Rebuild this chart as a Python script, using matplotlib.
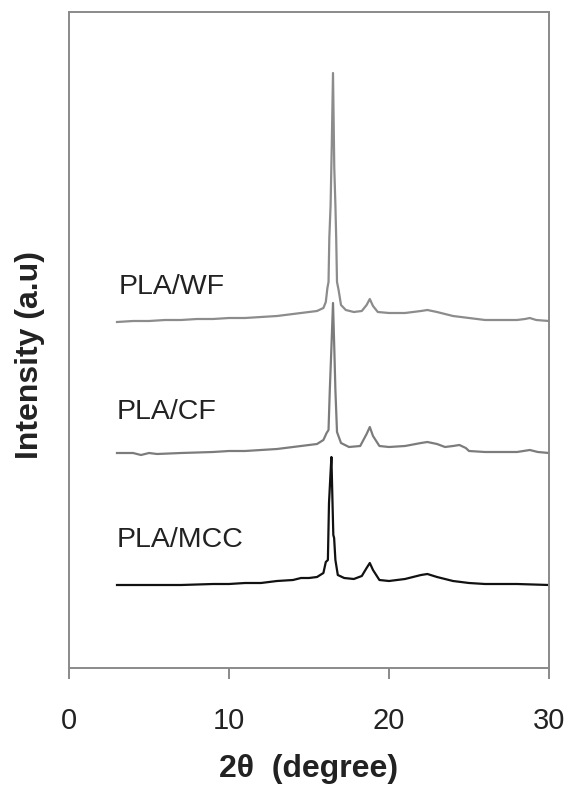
import matplotlib
matplotlib.use("Agg")
import matplotlib.pyplot as plt

plt.rcParams['font.family'] = ['Liberation Sans', 'DejaVu Sans']

# 2-theta (degree) and intensity (a.u., stacked)
wf_2theta = [3.0, 4.0, 5.0, 6.0, 7.0, 8.0, 9.0, 10.0, 11.0, 12.0, 13.0, 14.0, 14.5, 15.0,
             15.5, 15.9, 16.05, 16.15, 16.22, 16.27, 16.35, 16.42, 16.5, 16.58, 16.65,
             16.7, 16.75, 16.85, 17.0, 17.3, 17.8, 18.3, 18.6, 18.8, 19.0, 19.3, 20.0,
             21.0, 22.0, 22.4, 23.0, 24.0, 25.0, 26.0, 27.0, 28.0, 28.5, 28.8, 29.2, 30.0]
wf_int = [346, 347, 347, 348, 348, 349, 349, 350, 350, 351, 352, 354, 355, 356,
          357, 360, 366, 380, 386, 430, 463, 520, 595, 500, 463,
          430, 386, 378, 363, 358, 356, 357, 363, 369, 362, 356, 355,
          355, 357, 358, 356, 352, 350, 348, 348, 348, 349, 350, 348, 347]

cf_2theta = [3.0, 4.0, 4.5, 5.0, 5.5, 7.0, 9.0, 10.0, 11.0, 12.0, 13.0, 14.0, 15.0, 15.5,
             15.9, 16.1, 16.22, 16.3, 16.4, 16.5, 16.58, 16.65, 16.75, 17.0, 17.5,
             18.2, 18.6, 18.8, 19.0, 19.4, 20.0, 21.0, 22.0, 22.4, 23.0, 23.5, 24.0,
             24.4, 24.8, 25.0, 26.0, 27.0, 28.0, 28.8, 29.3, 30.0]
cf_int = [215, 215, 213, 215, 214, 215, 216, 217, 217, 218, 219, 221, 223, 224,
          228, 235, 238, 278, 320, 365, 320, 278, 236, 225, 221,
          222, 234, 241, 232, 222, 221, 222, 225, 226, 224, 221, 222,
          223, 220, 217, 216, 216, 216, 218, 216, 215]

mcc_2theta = [3.0, 5.0, 7.0, 9.0, 10.0, 11.0, 12.0, 13.0, 14.0, 14.5, 15.0, 15.5, 15.9,
              16.05, 16.18, 16.25, 16.33, 16.4, 16.47, 16.52, 16.57, 16.65, 16.8, 17.2,
              17.8, 18.3, 18.6, 18.8, 19.0, 19.4, 20.0, 21.0, 22.0, 22.4, 23.0, 24.0,
              25.0, 26.0, 28.0, 30.0]
mcc_int = [83, 83, 83, 84, 84, 85, 85, 87, 88, 90, 90, 91, 95,
           106, 108, 165, 190, 211, 165, 133, 130, 108, 93, 90,
           89, 92, 100, 105, 98, 88, 87, 89, 93, 94, 91, 87,
           85, 84, 84, 83]

series_labels = ["PLA/WF", "PLA/CF", "PLA/MCC"]
xticks = [0, 10, 20, 30]

fig = plt.figure(figsize=(5.69, 7.90), dpi=100)
ax = fig.add_axes([69/569, 1-668/790, 480/569, 656/790])

ax.plot(wf_2theta, wf_int, color='#8c8c8c', lw=1.6)
ax.plot(cf_2theta, cf_int, color='#7c7c7c', lw=1.6)
ax.plot(mcc_2theta, mcc_int, color='#111111', lw=1.6)

ax.set_xlim(0, 30)
ax.set_ylim(0, 656)
ax.set_xticks(xticks)
ax.set_xticklabels([str(t) for t in xticks])
ax.set_yticks([])
ax.tick_params(axis='x', direction='out', length=8, width=1.3, color='#808080',
               pad=20, labelsize=21, labelcolor='#222222')
for s in ax.spines.values():
    s.set_color('#8a8a8a')
    s.set_linewidth(1.4)

ax.text(3.1, 668-287, series_labels[0], fontsize=20.5, color='#222222', va='center', ha='left')
ax.text(3.0, 668-412, series_labels[1], fontsize=20.5, color='#222222', va='center', ha='left')
ax.text(3.0, 668-540, series_labels[2], fontsize=20.5, color='#222222', va='center', ha='left')

fig.text(309/569, 1-769/790, "2\u03b8  (degree)", fontsize=23, fontweight='bold',
         color='#222222', ha='center', va='center')
fig.text(30/569, 1-355/790, "Intensity (a.u)", fontsize=23, fontweight='bold',
         color='#222222', ha='center', va='center', rotation=90)

fig.savefig("out.png", dpi=100)
